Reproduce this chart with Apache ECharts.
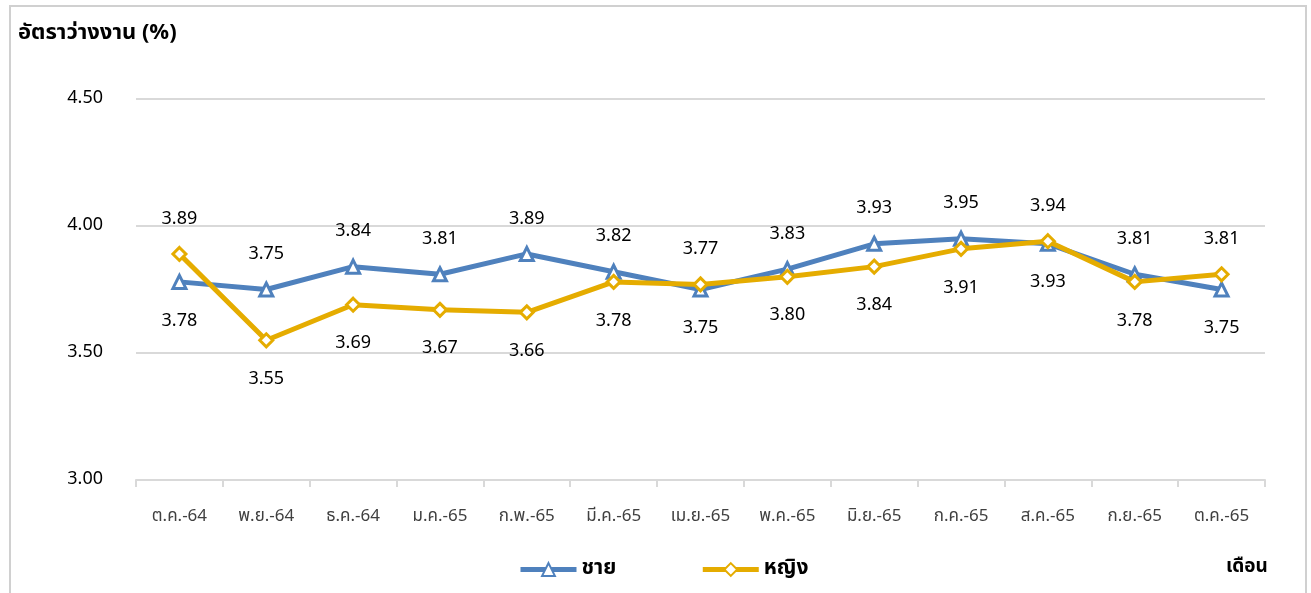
<!DOCTYPE html>
<html><head><meta charset="utf-8">
<script src="https://cdn.jsdelivr.net/npm/echarts@6/dist/echarts.min.js"></script>
<style>
html,body{margin:0;padding:0;background:#fff;}
#frame{position:absolute;left:9px;top:5px;width:1298px;height:600px;border:2px solid #d0d0d0;box-sizing:border-box;}
#c{position:absolute;left:0;top:0;width:1311px;height:593px;}
</style></head>
<body>
<div id="frame"></div>
<div id="c"></div>
<script>
const categories = ['ต.ค.-64','พ.ย.-64','ธ.ค.-64','ม.ค.-65','ก.พ.-65','มี.ค.-65','เม.ย.-65','พ.ค.-65','มิ.ย.-65','ก.ค.-65','ส.ค.-65','ก.ย.-65','ต.ค.-65'];
const male = [3.78,3.75,3.84,3.81,3.89,3.82,3.75,3.83,3.93,3.95,3.93,3.81,3.75];
const female = [3.89,3.55,3.69,3.67,3.66,3.78,3.77,3.80,3.84,3.91,3.94,3.78,3.81];
const yTicks = [3.00,3.50,4.00,4.50];
const FONT = "Tahoma, 'Noto Sans Thai', 'Noto Sans', sans-serif";

function mk(vals, other){
  return vals.map((v,i)=>{
    const top = v >= other[i];
    return {value:v, label:{position: top ? 'top':'bottom', distance: top ? 17 : 23}};
  });
}
const chart = echarts.init(document.getElementById('c'), null, {renderer:'canvas'});
const labelCommon = {show:true, fontSize:18, color:'#000', fontFamily:FONT, formatter:p=>p.value.toFixed(2)};
chart.setOption({
  animation:false,
  textStyle:{fontFamily:FONT},
  title:[{text:'อัตราว่างงาน (%)', left:13, top:19, textStyle:{fontSize:22, fontWeight:'bold', color:'#000', fontFamily:FONT}},
         {text:'เดือน', left:1221, top:554, textStyle:{fontSize:19, fontWeight:'bold', color:'#000', fontFamily:FONT}}],
  legend:{bottom:8, left:513, itemGap:84, itemWidth:56, itemHeight:16, data:['ชาย','หญิง'],
    lineStyle:{width:5},
    textStyle:{fontSize:21, fontWeight:'bold', color:'#000', fontFamily:FONT}},
  grid:{left:136, right:46, top:99, bottom:113},
  xAxis:{type:'category', data:categories, boundaryGap:true,
    axisLine:{lineStyle:{color:'#d9d9d9', width:2}},
    axisTick:{show:true, length:7, lineStyle:{color:'#d9d9d9', width:2}},
    axisLabel:{fontSize:17, color:'#404040', margin:29, fontFamily:FONT}},
  yAxis:{type:'value', min:3, max:4.5, interval:0.5,
    axisLine:{show:false}, axisTick:{show:false},
    splitLine:{lineStyle:{color:'#d9d9d9', width:2}},
    axisLabel:{fontSize:18, color:'#000', margin:33, padding:[10,0,0,0], fontFamily:FONT, formatter:v=>v.toFixed(2)}},
  series:[
    {name:'ชาย', type:'line', data:mk(male,female), symbol:'triangle', symbolSize:13,
      lineStyle:{color:'#4F81BD', width:5}, itemStyle:{color:'#fff', borderColor:'#4F81BD', borderWidth:3},
      label:labelCommon, z:2},
    {name:'หญิง', type:'line', data:mk(female,male), symbol:'diamond', symbolSize:13,
      lineStyle:{color:'#E5AC00', width:5}, itemStyle:{color:'#fff', borderColor:'#E5AC00', borderWidth:3},
      label:labelCommon, z:3}
  ]
});
</script>
</body></html>
